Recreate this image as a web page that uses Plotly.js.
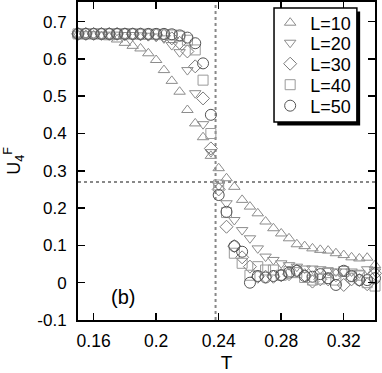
<!DOCTYPE html>
<html>
<head>
<meta charset="utf-8">
<script src="https://cdn.plot.ly/plotly-3.0.1.min.js"></script>
<style>html,body{margin:0;padding:0;background:#fff;}#chart{width:382px;height:373px;}</style>
</head>
<body>
<div id="chart"></div>
<script>
const T = [0.15,0.155,0.16,0.165,0.17,0.175,0.18,0.185,0.19,0.195,0.2,0.205,0.21,0.215,0.22,0.225,0.23,0.235,0.24,0.245,0.25,0.255,0.26,0.265,0.27,0.275,0.28,0.285,0.29,0.295,0.3,0.305,0.31,0.315,0.32,0.325,0.33,0.335,0.34];
const U_L10 = [0.665,0.664,0.663,0.661,0.658,0.652,0.643,0.635,0.628,0.615,0.597,0.57,0.541,0.512,0.463,0.427,0.39,0.34,0.307,0.28,0.257,0.222,0.204,0.186,0.164,0.146,0.132,0.119,0.103,0.098,0.092,0.088,0.086,0.079,0.074,0.068,0.065,0.067,0.047];
const U_L20 = [0.666,0.666,0.666,0.665,0.665,0.665,0.664,0.664,0.663,0.662,0.660,0.655,0.637,0.618,0.57,0.508,0.425,0.35,0.26,0.213,0.168,0.141,0.119,0.092,0.07,0.061,0.052,0.047,0.043,0.038,0.038,0.036,0.032,0.03,0.03,0.03,0.025,0.036,0.03];
const U_L30 = [0.667,0.667,0.667,0.667,0.667,0.667,0.666,0.666,0.666,0.665,0.664,0.662,0.655,0.643,0.62,0.58,0.494,0.36,0.25,0.15,0.098,0.068,0.043,0.016,0.016,0.016,0.02,0.023,0.032,0.02,0.003,0.009,0.009,0.02,-0.006,0.009,0.007,-0.004,0.025];
const U_L40 = [0.667,0.667,0.667,0.667,0.667,0.667,0.667,0.667,0.666,0.666,0.666,0.665,0.664,0.661,0.65,0.624,0.543,0.40,0.262,0.188,0.079,0.052,0.02,0.043,0.034,0.034,0.02,0.03,0.027,0.014,0.007,0.01,0.027,0.007,0.03,0.016,0.02,0.0,-0.009];
const U_L50 = [0.667,0.667,0.667,0.667,0.667,0.667,0.667,0.667,0.667,0.667,0.667,0.667,0.666,0.663,0.657,0.642,0.588,0.45,0.235,0.19,0.098,0.083,0.0,0.018,0.014,0.018,0.02,0.027,0.032,0.018,0.016,0.023,0.012,-0.006,0.032,0.018,0.007,0.007,0.012];
const seriesNames = ['L=10','L=20','L=30','L=40','L=50'];
const xTicks = [0.16,0.2,0.24,0.28,0.32];
const xTickText = ['0.16','0.2','0.24','0.28','0.32'];
const yTicks = [-0.1,0,0.1,0.2,0.3,0.4,0.5,0.6,0.7];
const yTickText = ['-0.1','0','0.1','0.2','0.3','0.4','0.5','0.6','0.7'];
const Tc = 0.238;
const Ustar = 0.27;

const symbols = ['triangle-up-open','triangle-down-open','diamond-open','square-open','circle-open'];
const colors = ['#8c8c8c','#8c8c8c','#7a7a7a','#9a9a9a','#555555'];
const sizes = [10,10,10,10,11];
const ys = [U_L10,U_L20,U_L30,U_L40,U_L50];
const FONT = 'Arial, "Liberation Sans", sans-serif';
const legendIds = ['legend','legend2','legend3','legend4','legend5'];
const legendY = [0.934,0.871,0.805,0.739,0.673];

const traces = ys.map((y,i)=>({
  x: T, y: y, type:'scatter', mode:'markers', name: seriesNames[i], legend: legendIds[i],
  marker:{symbol:symbols[i], size:sizes[i], color:colors[i], line:{width:1, color:colors[i]}},
  cliponaxis:false
}));

const lx0=0.66, lx1=0.939, ly0=0.623, ly1=0.981;
const layout = {
  width:382, height:373,
  margin:{l:78, r:7, t:2, b:53},
  paper_bgcolor:'#fff', plot_bgcolor:'#fff',
  font:{family:FONT, color:'#000', size:17},
  showlegend:true,
  xaxis:{range:[0.15,0.34], tickmode:'array', tickvals:xTicks, ticktext:xTickText, ticks:'inside', ticklen:7, tickwidth:1.5, tickcolor:'#000', showline:true, linecolor:'#000', linewidth:2, mirror:'ticks', showgrid:false, zeroline:false, tickfont:{size:17.5}, ticklabelstandoff:4, title:{text:'T', font:{size:19}, standoff:10}},
  yaxis:{range:[-0.1,0.7525], tickmode:'array', tickvals:yTicks, ticktext:yTickText, ticks:'inside', ticklen:7, tickwidth:1.5, tickcolor:'#000', showline:true, linecolor:'#000', linewidth:2, mirror:'ticks', showgrid:false, zeroline:false, tickfont:{size:17}, ticklabelstandoff:6, title:{text:'U<sub>4</sub><sup>F</sup>', font:{size:18}, standoff:12}},
  shapes:[
    {type:'line', xref:'x', yref:'paper', x0:Tc, x1:Tc, y0:0, y1:1, line:{color:'#888', width:2, dash:'dot'}, layer:'below'},
    {type:'line', xref:'paper', yref:'y', x0:0, x1:1, y0:Ustar, y1:Ustar, line:{color:'#888', width:2, dash:'dot'}, layer:'below'},
    {type:'rect', xref:'paper', yref:'paper', x0:lx0+0.011, x1:lx1+0.011, y0:ly0-0.011, y1:ly1-0.011, fillcolor:'#000', line:{width:0}, layer:'above'},
    {type:'rect', xref:'paper', yref:'paper', x0:lx0, x1:lx1, y0:ly0, y1:ly1, fillcolor:'#fff', line:{color:'#000', width:1.5}, layer:'above'}
  ],
  annotations:[
    {xref:'x', yref:'y', x:0.179, y:-0.038, text:'(b)', showarrow:false, font:{size:20, family:FONT}}
  ]
};
legendIds.forEach((id,i)=>{
  layout[id] = {x:0.647, xanchor:'left', y:legendY[i], yanchor:'middle', bgcolor:'rgba(0,0,0,0)', borderwidth:0, font:{size:18, family:FONT}};
});
Plotly.newPlot('chart', traces, layout, {displayModeBar:false, staticPlot:true});
</script>
</body>
</html>
